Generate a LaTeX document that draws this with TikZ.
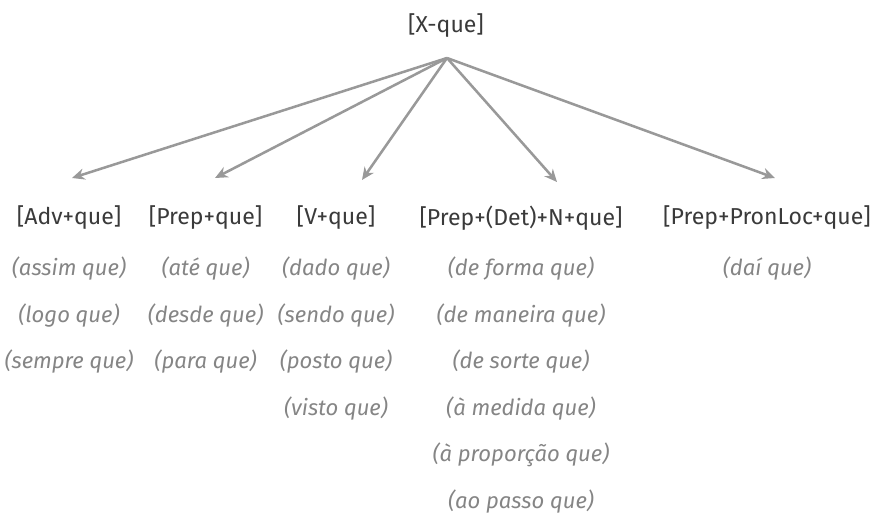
\documentclass[tikz,border=0pt]{standalone}
\usepackage{fontspec}
\setmainfont{Fira Sans}
\usepackage{tikz}
\usetikzlibrary{arrows.meta}
\usepackage{xcolor}
\definecolor{headgray}{HTML}{3A3A3A}
\definecolor{exgray}{HTML}{858585}
\definecolor{arrgray}{HTML}{999999}

\tikzset{
  head/.style={text=headgray, font=\fontsize{16.4}{20}\selectfont, inner sep=0pt},
  ex/.style={text=exgray, font=\fontsize{15.7}{20}\selectfont\itshape, inner sep=0pt},
  link/.style={draw=arrgray, line width=1.8pt, -{Stealth[length=9pt,width=8pt]}}
}

\begin{document}
\begin{tikzpicture}
\useasboundingbox (0,0) rectangle (22,-12.85);
% root and where the arrows leave it
\node[head] (xque) at (11.15,-.65) {[X-que]};
\coordinate (hub) at (11.175,-1.45);

% the five types
\node[head] (adv) at (1.725,-5.45) {[Adv+que]};
\node[head] (prep) at (5.14,-5.45) {[Prep+que]};
\node[head] (verb) at (8.4,-5.45) {[V+que]};
\node[head] (prepn) at (13.025,-5.45) {[Prep+(Det)+N+que]};
\node[head] (pronloc) at (19.175,-5.45) {[Prep+PronLoc+que]};

\coordinate (adv-in) at (1.8,-4.45);
\coordinate (prep-in) at (5.375,-4.45);
\coordinate (verb-in) at (9.05,-4.5);
\coordinate (prepn-in) at (13.925,-4.55);
\coordinate (pronloc-in) at (19.375,-4.45);

\draw[link] (hub) -- (adv-in);
\draw[link] (hub) -- (prep-in);
\draw[link] (hub) -- (verb-in);
\draw[link] (hub) -- (prepn-in);
\draw[link] (hub) -- (pronloc-in);

% examples under each type
\foreach \t [count=\i] in {(assim que),(logo que),(sempre que)}
  \node[ex] (adv-\i) at (1.725,{-6.72-1.163*(\i-1)}) {\t};
\foreach \t [count=\i] in {(até que),(desde que),(para que)}
  \node[ex] (prep-\i) at (5.14,{-6.72-1.163*(\i-1)}) {\t};
\foreach \t [count=\i] in {(dado que),(sendo que),(posto que),(visto que)}
  \node[ex] (verb-\i) at (8.4,{-6.72-1.163*(\i-1)}) {\t};
\foreach \t [count=\i] in {(de forma que),(de maneira que),(de sorte que),(à medida que),(à proporção que),(ao passo que)}
  \node[ex] (prepn-\i) at (13.025,{-6.72-1.163*(\i-1)}) {\t};
\node[ex] (pronloc-1) at (19.175,-6.72) {(daí que)};
\end{tikzpicture}
\end{document}
